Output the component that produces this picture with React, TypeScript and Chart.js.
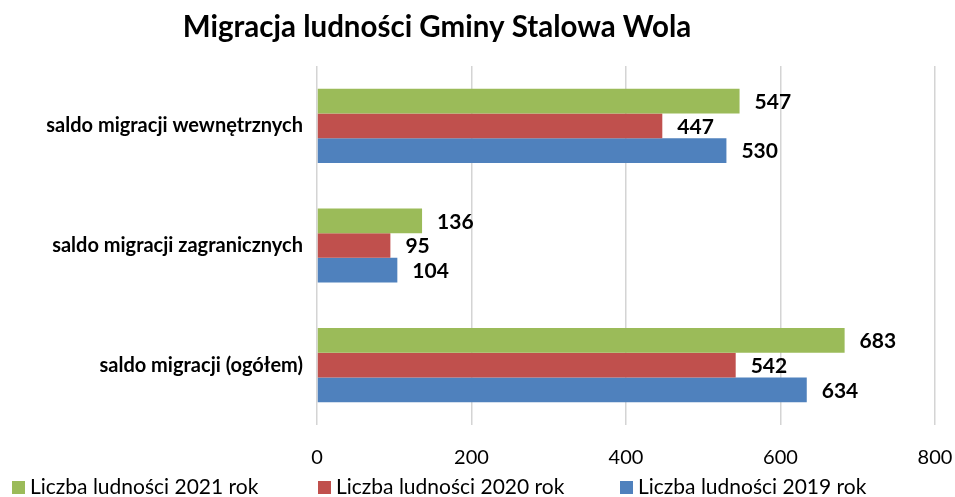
import React, { useEffect, useRef } from 'react';
import { Chart, registerables } from 'chart.js';

Chart.register(...registerables);

const chartTitle = 'Migracja ludności Gminy Stalowa Wola';
const categories = ['saldo migracji wewnętrznych', 'saldo migracji zagranicznych', 'saldo migracji (ogółem)'];
const seriesLabels = ['Liczba ludności 2021 rok', 'Liczba ludności 2020 rok', 'Liczba ludności 2019 rok'];
const values2021 = [547, 136, 683];
const values2020 = [447, 95, 542];
const values2019 = [530, 104, 634];
const seriesColors = ['#9BBB59', '#C0504D', '#4F81BD'];
const xMin = 0;
const xMax = 800;
const xStep = 200;

const FONT = 'Lato, "Open Sans", sans-serif';

const dataLabelPlugin = {
  id: 'dataLabels',
  afterDatasetsDraw(chart: any) {
    const ctx = chart.ctx;
    ctx.save();
    ctx.font = `bold 21px ${FONT}`;
    ctx.fillStyle = '#000';
    ctx.textAlign = 'left';
    ctx.textBaseline = 'middle';
    chart.data.datasets.forEach((ds: any, i: number) => {
      const meta = chart.getDatasetMeta(i);
      meta.data.forEach((el: any, j: number) => {
        ctx.fillText(String(ds.data[j]), el.x + 15, el.y + 1);
      });
    });
    ctx.restore();
  },
};

const titleLegendPlugin = {
  id: 'titleLegend',
  afterDraw(chart: any) {
    const ctx = chart.ctx;
    ctx.save();
    ctx.fillStyle = '#000';
    ctx.font = `bold 29.5px ${FONT}`;
    ctx.textAlign = 'center';
    ctx.textBaseline = 'middle';
    ctx.fillText(chartTitle, chart.width * 0.4576, 27);

    const starts = [12, 318, 620];
    const y = 487;
    ctx.font = `21px ${FONT}`;
    ctx.textAlign = 'left';
    chart.data.datasets.forEach((ds: any, i: number) => {
      const x = starts[i];
      ctx.fillStyle = ds.backgroundColor;
      ctx.fillRect(x, y - 6, 13, 13);
      ctx.fillStyle = '#000';
      ctx.fillText(ds.label, x + 18, y);
    });
    ctx.restore();
  },
};

export default function App() {
  const canvasRef = useRef<HTMLCanvasElement | null>(null);

  useEffect(() => {
    if (!canvasRef.current) return;
    const chart = new Chart(canvasRef.current, {
      type: 'bar',
      data: {
        labels: categories,
        datasets: [
          { label: seriesLabels[0], data: values2021, backgroundColor: seriesColors[0] },
          { label: seriesLabels[1], data: values2020, backgroundColor: seriesColors[1] },
          { label: seriesLabels[2], data: values2019, backgroundColor: seriesColors[2] },
        ],
      },
      options: {
        indexAxis: 'y',
        animation: false,
        responsive: false,
        maintainAspectRatio: false,
        layout: { padding: { top: 66, right: 0, bottom: 0, left: 0 } },
        datasets: { bar: { categoryPercentage: 0.62, barPercentage: 1 } },
        plugins: {
          legend: { display: false },
          title: { display: false },
          tooltip: { enabled: false },
        },
        scales: {
          x: {
            min: xMin,
            max: xMax,
            ticks: { stepSize: xStep, color: '#000', font: { family: FONT, size: 20 }, padding: 21 },
            grid: { color: '#d4d4d4', lineWidth: 1.5, drawTicks: false },
            border: { display: false },
            afterFit(scale: any) {
              scale.height = 72;
              scale.paddingRight = 20;
              scale.paddingLeft = 0;
            },
          },
          y: {
            ticks: { color: '#000', font: { family: FONT, size: 20, weight: 'bold' }, padding: 14 },
            grid: { display: false, drawTicks: false },
            border: { display: false },
            afterFit(scale: any) { scale.width = 317; },
          },
        },
      },
      plugins: [dataLabelPlugin, titleLegendPlugin],
    } as any);
    return () => chart.destroy();
  }, []);

  return (
    <div style={{ width: 955, height: 497, overflow: 'hidden' }}>
      <style>{`body{margin:0}`}</style>
      <canvas ref={canvasRef} width={955} height={497} style={{ display: 'block' }} />
    </div>
  );
}
